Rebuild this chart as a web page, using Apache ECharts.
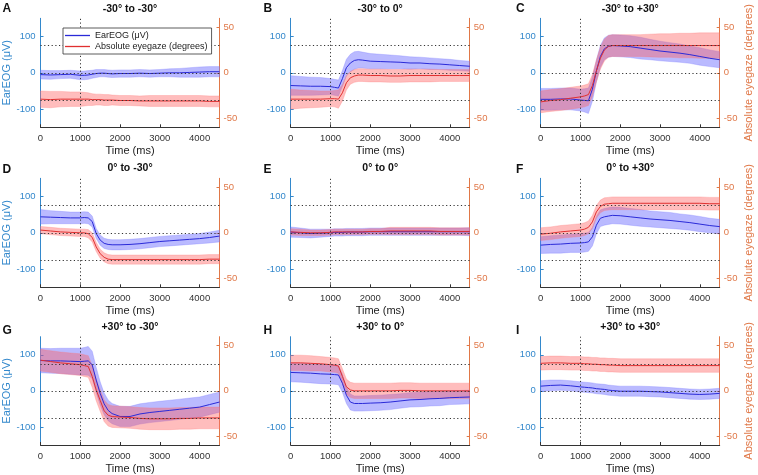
<!DOCTYPE html>
<html><head><meta charset="utf-8">
<script src="https://cdn.jsdelivr.net/npm/echarts@6/dist/echarts.min.js"></script>
<style>html,body{margin:0;padding:0;background:#fff}#c{width:758px;height:475px}</style>
</head><body><div id="c"></div>
<script>
// ---- data ----
const times = [0,250,500,750,1000,1100,1200,1300,1400,1500,1600,1700,1800,2000,2250,2500,2750,3000,3250,3500,3750,4000,4250,4500];
const xTicks = [0,1000,2000,3000,4000];
const eogTicks = [-100,0,100];
const gazeTicks = [-50,0,50];
const eogRefLines = [0,75,-75];
const stimTime = 1000;
const titles = ['-30° to -30°','-30° to 0°','-30° to +30°','0° to -30°','0° to 0°','0° to +30°','+30° to -30°','+30° to 0°','+30° to +30°'];
const letters = ['A','B','C','D','E','F','G','H','I'];

// EarEOG mean (µV) and half-width of band
const eogA = [-5,-6,-5,-4,-7,-7,-6,-4,-2,-1,-1,-2,-3,-2,-2,-1,-2,-1,0,0,1,2,3,3];
const eogSdA = [12,12,11,11,12,12,12,11,11,10,10,10,10,10,10,10,10,10,11,12,13,14,14,14];
const eogB = [-35,-36,-37,-37,-38,-40,-42,-16,14,27,34,36,35,32,31,30,29,27,27,25,24,22,20,18];
const eogSdB = [27,26,25,24,22,22,22,22,23,24,24,23,22,21,20,19,18,17,16,16,15,15,14,14];
const eogC = [-73,-73,-72,-72,-75,-76,-77,-45,5,45,66,73,75,74,72,68,64,60,57,54,50,45,40,36];
const eogSdC = [30,30,30,30,30,32,35,33,30,30,30,30,30,30,30,30,28,27,26,25,24,24,23,22];
const eogD = [44,43,42,41,41,42,41,31,-2,-20,-29,-32,-33,-33,-32,-30,-27,-24,-22,-20,-18,-16,-13,-9];
const eogSdD = [20,18,17,16,16,16,16,15,14,14,14,14,14,14,14,14,14,14,14,14,14,14,15,16];
const eogE = [2,0,-2,-1,0,1,1,1,2,2,2,2,2,3,3,3,3,3,3,3,3,3,3,3];
const eogSdE = [14,13,12,11,10,10,10,10,10,10,10,10,10,10,10,10,10,10,10,10,10,10,10,11];
const eogF = [-34,-32,-31,-29,-28,-27,-25,-11,21,40,44,46,48,47,44,41,38,36,34,31,28,24,20,17];
const eogSdF = [23,24,25,25,26,26,26,25,24,23,23,23,23,23,23,23,22,22,22,21,21,21,20,20];
const eogG = [84,83,83,82,81,82,83,72,30,-7,-36,-54,-63,-71,-71,-64,-60,-57,-54,-51,-48,-45,-38,-31];
const eogSdG = [34,34,35,36,37,38,40,38,35,32,30,29,28,28,28,28,28,28,28,28,28,28,28,28];
const eogH = [51,50,49,47,46,45,44,21,-12,-31,-35,-35,-35,-34,-33,-31,-28,-25,-24,-22,-21,-19,-18,-17];
const eogSdH = [26,26,27,27,27,27,27,25,23,22,21,21,21,21,21,21,20,20,20,20,20,19,19,19];
const eogI = [13,15,16,14,11,10,9,8,6,5,4,2,1,-1,-1,-1,-2,-3,-5,-7,-9,-10,-9,-7];
const eogSdI = [15,15,14,14,14,14,14,14,14,14,14,14,14,14,14,14,14,14,14,14,14,14,14,14];

// Absolute eyegaze mean (degrees) and half-width of band
const gazeA = [-29,-29.5,-29,-29,-29,-29,-29,-29.5,-29.5,-29.5,-30,-30,-30,-30.5,-30.5,-31,-31,-31,-31,-31,-31,-31,-31.5,-31.5];
const gazeSdA = [9,9,8.5,8,8,7.5,7,6.5,6,6,6,6,5.5,5.5,5.5,5.5,6,6,6,6,6,6,6,6];
const gazeB = [-29,-29,-29,-29,-28.5,-28.5,-29,-22,-11,-5.5,-3.5,-2.5,-2.5,-3,-3,-3.5,-3.5,-3,-3,-3,-3,-3,-3,-3];
const gazeSdB = [11,10,9.5,9,8.5,9,10,9,8,7,7,7,7,7,7,7,7,7,7,7,6.5,6.5,6.5,6.5];
const gazeC = [-32,-30.5,-29.5,-28,-26.5,-25.5,-24,-14,2,16,25,29,30,30,30,30,30,30,30,30,30,30,30,30];
const gazeSdC = [12,12,12,12,12,12,12,12,12,12,12,12,12,12,12,12,12.5,13,13,13.5,13.5,14,14,14];
const gazeD = [3,2,1,0.5,0,0,-1,-5,-15.5,-23,-27,-29,-29.5,-29.5,-29.5,-29.5,-29.5,-29.5,-29.5,-29.5,-29.5,-29.5,-29,-29];
const gazeSdD = [4,4,4,4,4,4,4.5,5,5,5,5,5,5,5,5,5,5,5,5,5,5,5,5,5];
const gazeE = [1,0.5,0,0,0.5,1,1,1,1,1,1,1,1,1.5,1.5,2,2,2,2,2,1.5,1.5,1.5,1.5];
const gazeSdE = [3.5,3.5,3,3,3,3,3,3,3,3,3,3,3,3,3,4,4,4,4,4,4,4,4,4];
const gazeF = [-1.5,-0.5,1,2,3,4,6,12,23,29,31.5,32,32.5,32.5,32.5,32.5,32.5,32.5,32.5,32.5,32.5,32.5,32,32];
const gazeSdF = [7,7,7,7,7,7,7,7,7,7,7,7,7,7,7,7,7,7,7,7,7,7,7,7];
const gazeG = [34,32.5,31,30,29,28,27,16,1,-10.5,-22,-27,-28.5,-29,-29.5,-30.5,-31,-31,-31,-30.5,-30.5,-30,-30,-30];
const gazeSdG = [12,12,12,12,12,12,12,12,12,12,12,12,12,12,12,12,12,12,12,12,12,12,12,12];
const gazeH = [31,31,30.5,30,29,28.5,27.5,16,4.5,1,0,0,0,0,0,0,0.5,0.5,0,0,0,0,0,0];
const gazeSdH = [8.5,8.5,8.5,8,8,8,8,8.5,8.5,8.5,8.5,8.5,8.5,8.5,8.5,8.5,8.5,8.5,8.5,8.5,8.5,8.5,8.5,8.5];
const gazeI = [30.5,31,31,30.5,30.5,30,30,29.5,29.5,29,29,28.5,28.5,28,28,28,28,28,28,28,28,28,28,28];
const gazeSdI = [7.5,7.5,7.5,7.5,7.5,7.5,7.5,7.5,7.5,7.5,7.5,7.5,7.5,7.5,7.5,7.5,7.5,7.5,7.5,7.5,7.5,7.5,7.5,7.5];

const eogMeans = [eogA,eogB,eogC,eogD,eogE,eogF,eogG,eogH,eogI];
const eogSds = [eogSdA,eogSdB,eogSdC,eogSdD,eogSdE,eogSdF,eogSdG,eogSdH,eogSdI];
const gazeMeans = [gazeA,gazeB,gazeC,gazeD,gazeE,gazeF,gazeG,gazeH,gazeI];
const gazeSds = [gazeSdA,gazeSdB,gazeSdC,gazeSdD,gazeSdE,gazeSdF,gazeSdG,gazeSdH,gazeSdI];

// ---- layout / style ----
const FONT = 'Liberation Sans, Arial, sans-serif';
const BLUE_AX = '#3388cc', ORANGE_AX = '#e07848', DARK = '#333';
const EOG_LINE = '#2a2ad8', GAZE_LINE = '#e03030';
const EOG_FILL = 'rgba(90,90,255,0.42)', GAZE_FILL = 'rgba(255,90,90,0.4)';
const EOG_EDGE = 'rgba(120,120,255,0.5)', GAZE_EDGE = 'rgba(255,120,120,0.5)';
const colLeft = [40.5, 290.7, 540.7], plotW = 179;
const rowTop = [18.3, 178.3, 336.7], plotH = 109;
const plain = v => String(v);

function bandSeries(i, yIdx, mean, sd, fill, edge) {
  const data = times.map((t, k) => [t, mean[k] - sd[k], mean[k] + sd[k]]);
  return {
    type: 'custom', xAxisIndex: i, yAxisIndex: yIdx, silent: true, z: 1, clip: true,
    data: data, encode: {x: 0, y: [1, 2]},
    renderItem: function (params, api) {
      if (params.dataIndex !== 0) return null;
      const pts = [];
      for (let k = 0; k < data.length; k++) pts.push(api.coord([data[k][0], data[k][2]]));
      for (let k = data.length - 1; k >= 0; k--) pts.push(api.coord([data[k][0], data[k][1]]));
      return {type: 'polygon', shape: {points: pts},
        style: {fill: fill, stroke: edge, lineWidth: 0.6}};
    }
  };
}

const grids = [], xAxes = [], yAxes = [], series = [], graphics = [];
for (let i = 0; i < 9; i++) {
  const r = Math.floor(i / 3), c = i % 3;
  grids.push({left: colLeft[c], top: rowTop[r], width: plotW, height: plotH, containLabel: false});
  xAxes.push({type: 'value', gridIndex: i, min: 0, max: 4500,
    axisLine: {show: true, onZero: false, lineStyle: {color: DARK, width: 1}},
    axisTick: {show: true, inside: true, length: 3, customValues: xTicks, lineStyle: {color: DARK}},
    axisLabel: {customValues: xTicks, formatter: plain, color: '#333', fontSize: 9.5, fontFamily: FONT, margin: 6},
    splitLine: {show: false},
    name: 'Time (ms)', nameLocation: 'middle', nameGap: 18,
    nameTextStyle: {fontSize: 11, color: '#222', fontFamily: FONT}});
  yAxes.push({type: 'value', gridIndex: i, position: 'left', min: -150, max: 150,
    axisLine: {show: true, onZero: false, lineStyle: {color: BLUE_AX, width: 1}},
    axisTick: {show: true, inside: true, length: 3, customValues: eogTicks, lineStyle: {color: BLUE_AX}},
    axisLabel: {customValues: eogTicks, formatter: plain, color: BLUE_AX, fontSize: 9.5, fontFamily: FONT, margin: 5},
    splitLine: {show: false},
    name: c === 0 ? 'EarEOG (μV)' : '', nameLocation: 'middle', nameGap: 28, nameRotate: 90,
    nameTextStyle: {fontSize: 11, color: BLUE_AX, fontFamily: FONT}});
  yAxes.push({type: 'value', gridIndex: i, position: 'right', min: -60, max: 60,
    axisLine: {show: true, onZero: false, lineStyle: {color: ORANGE_AX, width: 1}},
    axisTick: {show: true, inside: true, length: 3, customValues: gazeTicks, lineStyle: {color: ORANGE_AX}},
    axisLabel: {customValues: gazeTicks, formatter: plain, color: ORANGE_AX, fontSize: 9.5, fontFamily: FONT, margin: 4},
    splitLine: {show: false},
    name: c === 2 ? 'Absolute eyegaze (degrees)' : '', nameLocation: 'middle', nameGap: 24, nameRotate: 90,
    nameTextStyle: {fontSize: 11, color: ORANGE_AX, fontFamily: FONT}});

  const em = eogMeans[i], es = eogSds[i], gm = gazeMeans[i], gs = gazeSds[i];
  series.push(bandSeries(i, 2*i, em, es, EOG_FILL, EOG_EDGE));
  series.push(bandSeries(i, 2*i+1, gm, gs, GAZE_FILL, GAZE_EDGE));
  const common = {type: 'line', xAxisIndex: i, symbol: 'none', silent: true, animation: false, z: 3};
  series.push(Object.assign({}, common, {name: 'EarEOG (μV)', yAxisIndex: 2*i, color: EOG_LINE,
    data: times.map((t,k) => [t, em[k]]), lineStyle: {width: 1, color: EOG_LINE},
    markLine: {silent: true, symbol: 'none', label: {show: false}, animation: false,
      lineStyle: {type: [1.2, 2.5], color: '#333', width: 1},
      data: eogRefLines.map(v => ({yAxis: v})).concat([{xAxis: stimTime}])}}));
  series.push(Object.assign({}, common, {name: 'Absolute eyegaze (degrees)', yAxisIndex: 2*i+1, color: GAZE_LINE,
    data: times.map((t,k) => [t, gm[k]]), lineStyle: {width: 1, color: GAZE_LINE}}));

  const titleY = [9.5, 168.3, 327][r];
  graphics.push({type: 'text', x: colLeft[c] + plotW/2, y: titleY, silent: true,
    style: {text: titles[i], font: 'bold 10.5px ' + FONT, fill: '#111', textAlign: 'center', textVerticalAlign: 'middle'}});
  graphics.push({type: 'text', x: [2.5, 263.5, 516][c], y: [8.5, 170, 331][r], silent: true,
    style: {text: letters[i], font: 'bold 12px ' + FONT, fill: '#111', textAlign: 'left', textVerticalAlign: 'middle'}});
}

const chart = echarts.init(document.getElementById('c'), null, {renderer: 'canvas'});
chart.setOption({
  animation: false,
  backgroundColor: '#fff',
  grid: grids, xAxis: xAxes, yAxis: yAxes, series: series,
  legend: {data: ['EarEOG (μV)', 'Absolute eyegaze (degrees)'], orient: 'vertical', left: 63, top: 28,
    icon: 'rect', itemWidth: 25, itemHeight: 1.3, itemGap: 2, padding: [3, 4, 3, 2],
    backgroundColor: '#fff', borderColor: '#333', borderWidth: 0.8, selectedMode: false, z: 10,
    textStyle: {fontSize: 9, color: '#222', fontFamily: FONT}},
  graphic: graphics
});
</script></body></html>
